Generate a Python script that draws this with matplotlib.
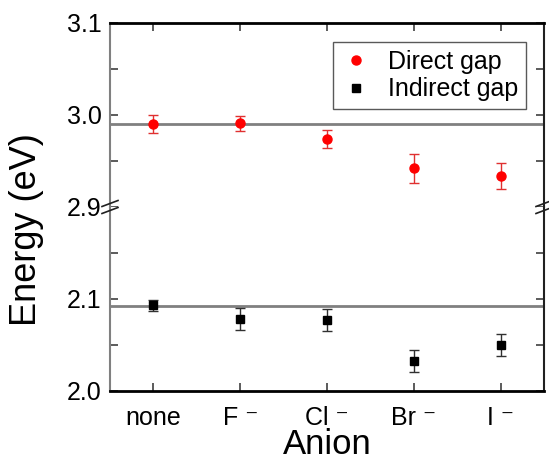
import matplotlib
matplotlib.use("Agg")
import matplotlib.pyplot as plt
from matplotlib.ticker import FixedLocator
from matplotlib.lines import Line2D

plt.rcParams['font.family'] = ['Liberation Sans', 'DejaVu Sans']

categories = ['none', 'F \u207b', 'Cl \u207b', 'Br \u207b', 'I \u207b']
direct_gap = [2.990, 2.991, 2.974, 2.942, 2.934]
direct_err = [0.010, 0.008, 0.010, 0.016, 0.014]
indirect_gap = [2.093, 2.078, 2.077, 2.033, 2.050]
indirect_err = [0.006, 0.012, 0.012, 0.012, 0.012]
direct_ref = 2.990
indirect_ref = 2.092

W, H = 549, 463
fig = plt.figure(figsize=(W / 100, H / 100), dpi=100)

L, R, T, B = 110, 544, 23, 391
mid = (T + B) / 2
ax_top = fig.add_axes([L / W, 1 - mid / H, (R - L) / W, (mid - T) / H])
ax_bot = fig.add_axes([L / W, 1 - B / H, (R - L) / W, (B - mid) / H], sharex=ax_top)

x = list(range(1, len(categories) + 1))
gray = '#808080'

ax_top.errorbar(x, direct_gap, yerr=direct_err, fmt='o', color='#ff0000', ms=6.5,
                ecolor='#e03030', elinewidth=1.0, capsize=3.5, capthick=1.0,
                label='Direct gap', zorder=3)
ax_bot.errorbar(x, indirect_gap, yerr=indirect_err, fmt='s', color='black', ms=5.5,
                ecolor='#303030', elinewidth=1.0, capsize=3.5, capthick=1.0,
                label='Indirect gap', zorder=3)
ax_top.axhline(direct_ref, color=gray, lw=2, zorder=2)
ax_bot.axhline(indirect_ref, color=gray, lw=2, zorder=2)

ax_top.set_ylim(2.9, 3.1)
ax_bot.set_ylim(2.0, 2.2)
ax_top.set_xlim(0.5, 5.5)

for ax in (ax_top, ax_bot):
    ax.tick_params(axis='both', which='both', direction='in', length=6, width=1.2,
                   labelsize=18, right=True, top=True, color='#404040')
    ax.tick_params(axis='y', which='both', pad=6)
    ax.spines['left'].set_color(gray)
    ax.spines['left'].set_linewidth(1.5)
    ax.spines['right'].set_color('#202020')
    ax.spines['right'].set_linewidth(1.5)
    ax.yaxis.set_major_formatter(plt.FuncFormatter(lambda v, p: f"{v:.1f}"))

ax_top.spines['bottom'].set_visible(False)
ax_bot.spines['top'].set_visible(False)
ax_top.spines['top'].set_linewidth(2)
ax_bot.spines['bottom'].set_linewidth(2)
ax_top.tick_params(axis='x', which='both', bottom=False, labelbottom=False, top=True)
ax_bot.tick_params(axis='x', which='both', top=False, bottom=True, pad=11)
ax_top.yaxis.set_major_locator(FixedLocator([2.9, 3.0, 3.1]))
ax_bot.yaxis.set_major_locator(FixedLocator([2.0, 2.1]))
ax_bot.yaxis.set_minor_locator(FixedLocator([2.05, 2.15]))
ax_top.yaxis.set_minor_locator(FixedLocator([2.95, 3.05]))

ax_bot.set_xticks(x)
ax_bot.set_xticklabels(categories)
fig.text(((L + R) / 2) / W, 1.5 / H, 'Anion', fontsize=25, ha='center', va='bottom')
fig.text(27 / W, 1 - 230 / H, 'Energy (eV)', rotation=90, fontsize=26,
         ha='center', va='center')

# legend
handles = [Line2D([], [], marker='o', ls='none', color='#ff0000', ms=6.5),
           Line2D([], [], marker='s', ls='none', color='black', ms=5.5)]
leg = ax_top.legend(handles, ['Direct gap', 'Indirect gap'], loc='upper right',
                    bbox_to_anchor=((526 - L) / (R - L), (mid - 42) / (mid - T)),
                    borderaxespad=0, fontsize=18, frameon=True, fancybox=False,
                    edgecolor='#303030', handlelength=1.2, handletextpad=0.7,
                    borderpad=0.3, labelspacing=0.15)
leg.get_frame().set_linewidth(1.0)

# break marks
for xb in (L, R):
    for dy in (-3.5, 3.5):
        yb = mid + dy
        fig.add_artist(Line2D([(xb - 8) / W, (xb + 8) / W],
                              [1 - (yb + 3) / H, 1 - (yb - 3) / H],
                              color='#202020', lw=1.2))

fig.savefig('out.png', dpi=100)
